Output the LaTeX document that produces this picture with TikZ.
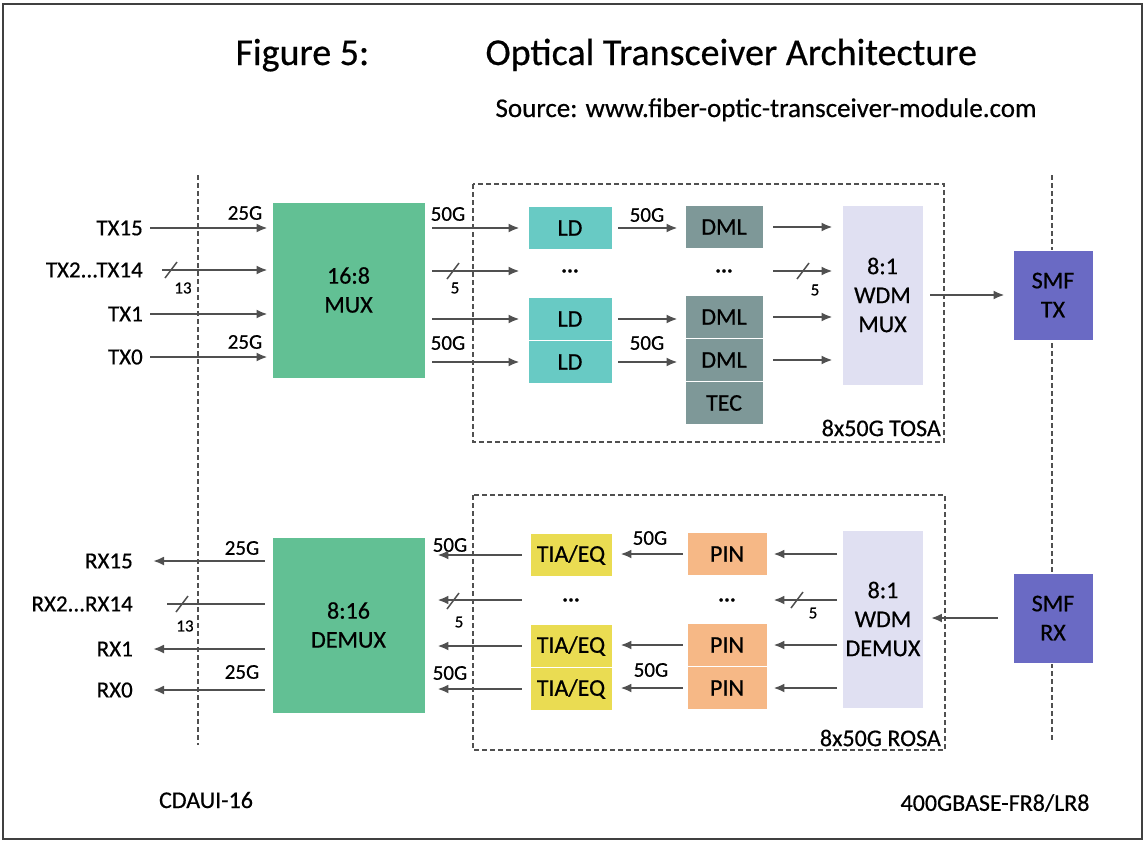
\documentclass[tikz,border=0pt]{standalone}
\usepackage{fontspec}
\setmainfont{Carlito}[FakeBold=0.5]
\usetikzlibrary{positioning,arrows.meta}
\definecolor{MuxGreen}{RGB}{98,192,148}
\definecolor{LDCyan}{RGB}{104,202,196}
\definecolor{DMLGrey}{RGB}{126,152,152}
\definecolor{WDMLilac}{RGB}{224,224,242}
\definecolor{SMFBlue}{RGB}{106,106,196}
\definecolor{TIAYellow}{RGB}{234,220,82}
\definecolor{PINOrange}{RGB}{246,184,134}
\definecolor{LineGrey}{RGB}{80,80,80}

\begin{document}
\begin{tikzpicture}[x=1pt,y=-1pt,
blk/.style={rectangle,draw=white,line width=0.8pt,align=center,inner sep=0pt,font=\fontsize{24}{29}\selectfont},
big/.style={blk,fill=MuxGreen,minimum width=153pt,minimum height=176pt},
ldbox/.style={blk,fill=LDCyan,minimum width=84pt,minimum height=43pt},
dmlbox/.style={blk,fill=DMLGrey,minimum width=78pt,minimum height=43pt},
wdmbox/.style={blk,fill=WDMLilac,minimum width=81pt,minimum height=180pt},
smfbox/.style={blk,fill=SMFBlue,minimum width=80pt,minimum height=90pt},
tiabox/.style={blk,fill=TIAYellow,minimum width=82pt,minimum height=43pt},
pinbox/.style={blk,fill=PINOrange,minimum width=80pt,minimum height=43pt},
lbl/.style={font=\fontsize{23}{25}\selectfont,inner sep=0pt},
rate/.style={font=\fontsize{21}{23}\selectfont,inner sep=0pt},
cnt/.style={font=\fontsize{17}{19}\selectfont,inner sep=0pt},
ellip/.style={font=\bfseries\fontsize{22}{24}\selectfont,inner sep=0pt},
arrow/.style={-{Latex[length=11pt,width=9pt]},line width=2.6pt,draw=LineGrey},
wire/.style={line width=2.6pt,draw=LineGrey},
bus/.style={line width=1.5pt,draw=LineGrey},
grpframe/.style={dash pattern=on 5pt off 3pt,line width=1.8pt,draw=LineGrey}
]
\useasboundingbox (0,0) rectangle (1145,841);
\draw[line width=1.5pt,draw=black!75] (3,4) rectangle (1142,839);

\node[anchor=base west,font=\fontsize{38}{40}\selectfont] (fig) at (232,65) {Figure 5:};
\node[anchor=base west,font=\fontsize{38}{40}\selectfont] (title) at (482,65) {Optical Transceiver Architecture};
\node[anchor=base west,font=\fontsize{27}{29}\selectfont] (src) at (492,117) {Source: www.fiber-optic-transceiver-module.com};

\draw[grpframe] (198,175) -- (198,745);
\draw[grpframe] (1052,175) -- (1052,740);
\draw[grpframe] (473,184) rectangle (944,442);
\draw[grpframe] (473,495) rectangle (945,750);
\node[lbl,anchor=east,font=\fontsize{24}{26}\selectfont] (tosa) at (941,428) {8x50G TOSA};
\node[lbl,anchor=east,font=\fontsize{24}{26}\selectfont] (rosa) at (941,738) {8x50G ROSA};

\node[big] (mux) at (348.5,290) {16:8\\MUX};
\node[big] (demux) at (348.5,625) {8:16\\DEMUX};

\node[ldbox] (ld1) at (570,228) {LD};
\node[ellip] (lddots) at (570,271) {...};
\node[ldbox] (ld2) at (570,319) {LD};
\node[ldbox] (ld3) at (570,362) {LD};
\node[dmlbox] (dml1) at (724,227) {DML};
\node[ellip] (dmldots) at (724,271) {...};
\node[dmlbox] (dml2) at (724,317) {DML};
\node[dmlbox] (dml3) at (724,360) {DML};
\node[dmlbox] (tec) at (724,403) {TEC};
\node[wdmbox] (wmux) at (882.5,295) {8:1\\WDM\\MUX};
\node[smfbox] (smftx) at (1053,295) {SMF\\TX};

\node[tiabox] (tia1) at (571,555) {TIA/EQ};
\node[ellip] (tiadots) at (571,600) {...};
\node[tiabox] (tia2) at (571,646) {TIA/EQ};
\node[tiabox] (tia3) at (571,689) {TIA/EQ};
\node[pinbox] (pin1) at (727,554) {PIN};
\node[ellip] (pindots) at (727,600) {...};
\node[pinbox] (pin2) at (727,645) {PIN};
\node[pinbox] (pin3) at (727,688) {PIN};
\node[wdmbox,minimum height=178pt] (wdemux) at (883,619) {8:1\\WDM\\DEMUX};
\node[smfbox] (smfrx) at (1053,618) {SMF\\RX};

\node[lbl,anchor=east] (tx15) at (143,228) {TX15};
\node[lbl,anchor=east] (tx2) at (143,270) {TX2...TX14};
\node[lbl,anchor=east] (tx1) at (143,314) {TX1};
\node[lbl,anchor=east] (tx0) at (143,357) {TX0};
\node[rate] (r25a) at (245,213) {25G};
\node[rate] (r25b) at (245,342) {25G};
\node[cnt] (n13a) at (183,288) {13};
\coordinate (s13a) at (171,270);
\draw[arrow,shorten <=7pt,shorten >=4pt] (tx15.east) -- (tx15 -| mux.west);
\draw[arrow,shorten <=19pt,shorten >=4pt] (tx2.east) -- (tx2 -| mux.west);
\draw[arrow,shorten <=7pt,shorten >=4pt] (tx1.east) -- (tx1 -| mux.west);
\draw[arrow,shorten <=7pt,shorten >=4pt] (tx0.east) -- (tx0 -| mux.west);
\draw[bus] ([shift={(-6,8)}]s13a) -- ([shift={(6,-8)}]s13a);

\node[rate] (r50a) at (448,214) {50G};
\node[rate] (r50b) at (448,343) {50G};
\node[cnt] (n5a) at (455,288) {5};
\coordinate (s5a) at (453,271);
\draw[arrow,shorten <=7pt,shorten >=8pt] (mux.east |- ld1) -- (ld1.west);
\draw[arrow,shorten <=7pt,shorten >=8pt] (mux.east |- lddots) -- (ld1.west |- lddots);
\draw[arrow,shorten <=7pt,shorten >=8pt] (mux.east |- ld2) -- (ld2.west);
\draw[arrow,shorten <=7pt,shorten >=8pt] (mux.east |- ld3) -- (ld3.west);
\draw[bus] ([shift={(-6,8)}]s5a) -- ([shift={(6,-8)}]s5a);

\node[rate] (r50c) at (647,215) {50G};
\node[rate] (r50d) at (647,343) {50G};
\draw[arrow,shorten <=6pt,shorten >=7pt] (ld1.east) -- (dml1.west |- ld1);
\draw[arrow,shorten <=6pt,shorten >=7pt] (ld2.east) -- (dml2.west |- ld2);
\draw[arrow,shorten <=6pt,shorten >=7pt] (ld3.east) -- (dml3.west |- ld3);

\node[cnt] (n5b) at (815,290) {5};
\coordinate (s5b) at (803,271);
\draw[arrow,shorten <=10pt,shorten >=9pt] (dml1.east) -- (dml1 -| wmux.west);
\draw[arrow,shorten <=10pt,shorten >=9pt] (dml1.east |- dmldots) -- (wmux.west |- dmldots);
\draw[arrow,shorten <=10pt,shorten >=9pt] (dml2.east) -- (dml2 -| wmux.west);
\draw[arrow,shorten <=10pt,shorten >=9pt] (dml3.east) -- (dml3 -| wmux.west);
\draw[bus] ([shift={(-6,8)}]s5b) -- ([shift={(6,-8)}]s5b);
\draw[arrow,shorten <=7pt,shorten >=8pt] (wmux.east |- smftx) -- (smftx.west);

\node[lbl,anchor=east] (rx15) at (133,561) {RX15};
\node[lbl,anchor=east] (rx2) at (133,604) {RX2...RX14};
\node[lbl,anchor=east] (rx1) at (133,649) {RX1};
\node[lbl,anchor=east] (rx0) at (133,690) {RX0};
\node[rate] (r25c) at (242,548) {25G};
\node[rate] (r25d) at (242,672) {25G};
\node[cnt] (n13b) at (185,626) {13};
\coordinate (s13b) at (182,604);
\draw[arrow,shorten <=7pt,shorten >=20pt] (rx15 -| demux.west) -- (rx15.east);
\draw[wire,shorten <=7pt,shorten >=34pt] (rx2 -| demux.west) -- (rx2.east);
\draw[arrow,shorten <=7pt,shorten >=20pt] (rx1 -| demux.west) -- (rx1.east);
\draw[arrow,shorten <=7pt,shorten >=20pt] (rx0 -| demux.west) -- (rx0.east);
\draw[bus] ([shift={(-6,8)}]s13b) -- ([shift={(6,-8)}]s13b);

\node[rate] (r50e) at (450,545) {50G};
\node[rate] (r50f) at (450,673) {50G};
\node[cnt] (n5c) at (459,622) {5};
\coordinate (s5c) at (453,601);
\draw[arrow,shorten <=8pt,shorten >=12pt] (tia1.west) -- (tia1 -| demux.east);
\draw[arrow,shorten <=8pt,shorten >=12pt] (tia1.west |- tiadots) -- (demux.east |- tiadots);
\draw[arrow,shorten <=8pt,shorten >=12pt] (tia2.west) -- (tia2 -| demux.east);
\draw[arrow,shorten <=8pt,shorten >=12pt] (tia3.west) -- (tia3 -| demux.east);
\draw[bus] ([shift={(-6,8)}]s5c) -- ([shift={(6,-8)}]s5c);

\node[rate] (r50g) at (650,538) {50G};
\node[rate] (r50h) at (651,670) {50G};
\draw[arrow,shorten <=4pt,shorten >=8pt] (pin1.west) -- (tia1.east |- pin1);
\draw[arrow,shorten <=4pt,shorten >=8pt] (pin2.west) -- (tia2.east |- pin2);
\draw[arrow,shorten <=4pt,shorten >=8pt] (pin3.west) -- (tia3.east |- pin3);

\node[cnt] (n5d) at (813,613) {5};
\coordinate (s5d) at (797,600);
\draw[arrow,shorten <=5pt,shorten >=6pt] (wdemux.west |- pin1) -- (pin1.east);
\draw[arrow,shorten <=5pt,shorten >=6pt] (wdemux.west |- pindots) -- (pin1.east |- pindots);
\draw[arrow,shorten <=5pt,shorten >=6pt] (wdemux.west |- pin2) -- (pin2.east);
\draw[arrow,shorten <=5pt,shorten >=6pt] (wdemux.west |- pin3) -- (pin3.east);
\draw[bus] ([shift={(-6,8)}]s5d) -- ([shift={(6,-8)}]s5d);
\draw[arrow,shorten <=15pt,shorten >=7pt] (smfrx.west) -- (wdemux.east |- smfrx);

\node[lbl,font=\fontsize{24}{26}\selectfont] (cdaui) at (206,800) {CDAUI-16};
\node[lbl,font=\fontsize{24}{26}\selectfont] (base) at (995,803) {400GBASE-FR8/LR8};
\end{tikzpicture}
\end{document}
